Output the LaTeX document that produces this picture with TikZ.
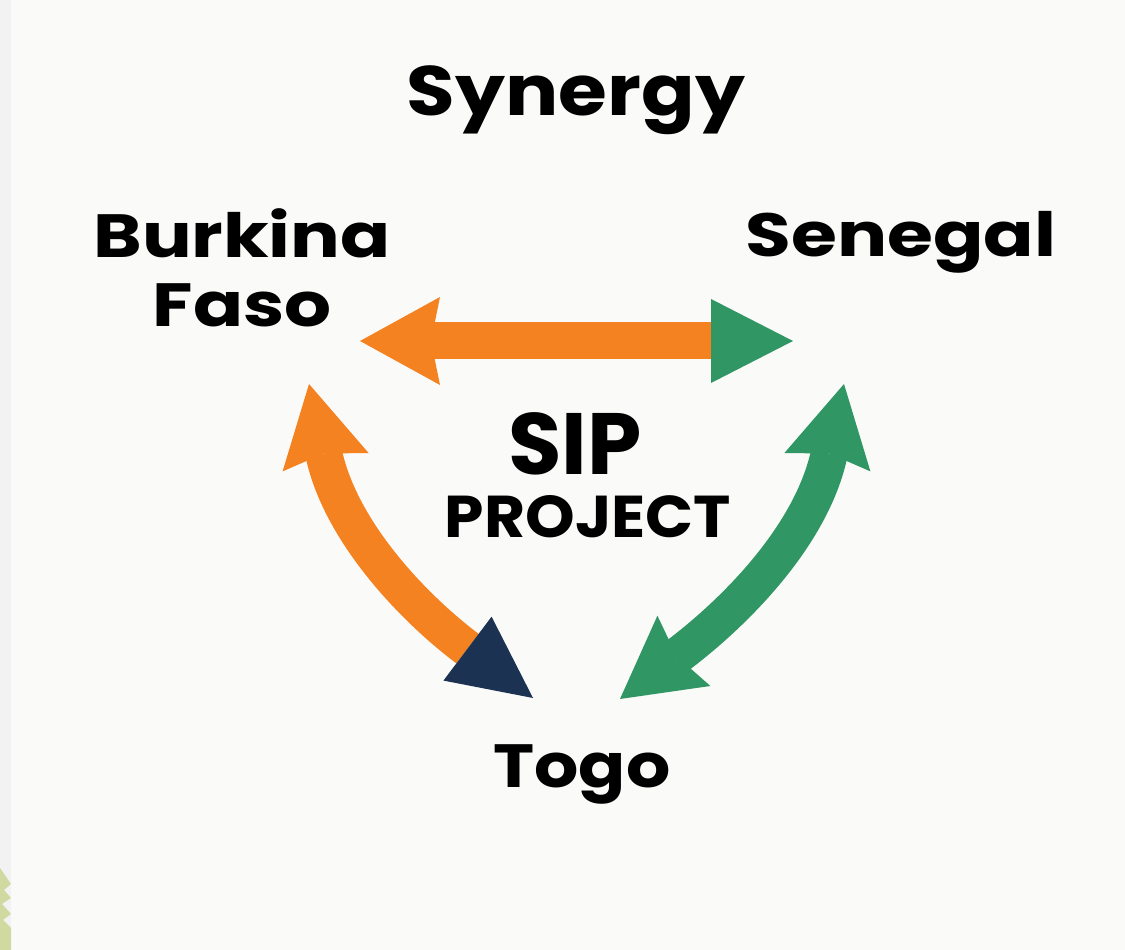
\documentclass[tikz,border=0pt]{standalone}
\usepackage{fontspec}
\setmainfont{Poppins}
\usepackage{tikz}
\usetikzlibrary{arrows.meta}
\definecolor{sipOrange}{RGB}{245,130,32}
\definecolor{sipGreen}{RGB}{48,150,100}
\definecolor{sipNavy}{RGB}{27,50,82}
\definecolor{paper}{RGB}{250,250,248}
\definecolor{strip}{RGB}{242,242,242}
\definecolor{grass}{RGB}{208,218,160}
\tikzset{
	bighead/.tip={Stealth[length=80pt,width=88pt,inset=9pt,line width=0pt]},
	flathead/.tip={Triangle[length=82pt,width=84pt,line width=0pt]}
}

\begin{document}
\begin{tikzpicture}[x=1pt,y=1pt,
		word/.style={font=\bfseries\fontsize{61}{69}\selectfont, inner sep=0pt, anchor=base, align=center, transform shape},
		band/.style={line width=37pt}]
			\fill[paper] (0,0) rectangle (1125,950);
			\fill[strip] (0,0) rectangle (11,950);
			\fill[grass] (0,0) -- (11,0) -- (11,22) -- (3,30) -- (11,36) -- (2,46) -- (11,52) -- (4,60) -- (11,66) -- (0,82) -- cycle;
			\node[word, xscale=1.13, font=\bfseries\fontsize{70}{72}\selectfont] (Syn) at (576,834) {Synergy};
			\node[word, xscale=1.21] (BF) at (242,623) {Burkina\\Faso};
			\node[word, xscale=1.22] (Sen) at (901,693) {Senegal};
			\node[word, font=\bfseries\fontsize{87}{90}\selectfont] (SIP) at (575,475) {SIP};
			\node[word, xscale=1.07, font=\bfseries\fontsize{59}{62}\selectfont] (Proj) at (588,412) {PROJECT};
			\node[word, xscale=1.14] (Togo) at (582,162) {Togo};
			\coordinate (BFe) at (360,609);
			\coordinate (SenW) at (793,609);
			\coordinate (BFs) at (309,566);
			\coordinate (SenS) at (844,566);
			\coordinate (TogoW) at (533,252);
			\coordinate (TogoE) at (620,251);
			\draw[band, sipOrange, {bighead}-{flathead[sipGreen]}] (BFe) -- (SenW);
			\draw[band, sipOrange, {bighead}-{flathead[sipNavy, width=80pt]}] (BFs) to[out=-78, in=143] (TogoW);
			\draw[band, sipGreen, {bighead}-{bighead}] (SenS) to[out=258, in=37] (TogoE);
		\end{tikzpicture}
\end{document}
